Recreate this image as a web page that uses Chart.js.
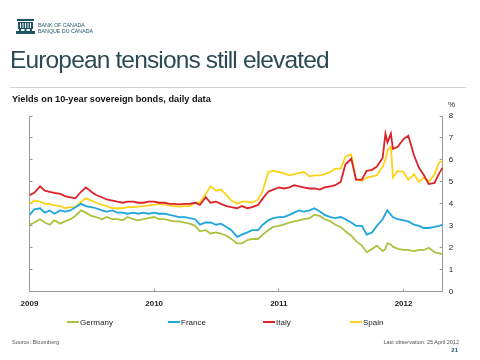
<!DOCTYPE html>
<html>
<head>
<meta charset="utf-8">
<script src="https://cdn.jsdelivr.net/npm/chart.js@4.4.1/dist/chart.umd.min.js"></script>
<style>
  body { margin: 0; background: #fff; font-family: "Liberation Sans", Arial, sans-serif; }
  #wrap { position: relative; width: 480px; height: 360px; overflow: hidden; }
  #c { position: absolute; left: 0; top: 0; }
  .txt { position: absolute; white-space: nowrap; }
  #legend .item { position: absolute; top: 318px; font-size: 8px; color: #222; line-height: 10px; }
  #legend .swatch { display: inline-block; width: 12px; height: 2px; vertical-align: middle; margin-right: 1px; position: relative; top: -1px; }
</style>
</head>
<body>
<div id="wrap">
  <canvas id="c" width="480" height="360"></canvas>

  <!-- logo -->
  <svg class="txt" style="left:16px; top:19px" width="19" height="15" viewBox="0 0 19 15">
    <rect x="1" y="0" width="17" height="2" fill="#1d5566"/>
    <rect x="2" y="3" width="15" height="7" fill="#1d5566"/>
    <rect x="4" y="4" width="1" height="5" fill="#fff"/>
    <rect x="6.5" y="4" width="1" height="5" fill="#fff"/>
    <rect x="9" y="4" width="1" height="5" fill="#fff"/>
    <rect x="11.5" y="4" width="1" height="5" fill="#fff"/>
    <rect x="14" y="4" width="1" height="5" fill="#fff"/>
    <rect x="0" y="12" width="19" height="3" fill="#1d5566"/>
    <rect x="3" y="10" width="2" height="2" fill="#1d5566"/>
    <rect x="8.5" y="10" width="2" height="2" fill="#1d5566"/>
    <rect x="14" y="10" width="2" height="2" fill="#1d5566"/>
  </svg>
  <div class="txt" style="left:38px; top:22px; font-size:5.3px; line-height:6.3px; color:#1d5566">BANK OF CANADA<br>BANQUE DU CANADA</div>

  <div class="txt" style="left:10px; top:46px; font-size:24.5px; letter-spacing:-0.85px; color:#2b4a55">European tensions still elevated</div>
  <div class="txt" style="left:10px; top:87px; width:456px; height:1px; background:#d0d4d6"></div>

  <div class="txt" style="left:12px; top:94px; font-size:9.2px; font-weight:bold; color:#111">Yields on 10-year sovereign bonds, daily data</div>
  <div class="txt" style="left:448px; top:100px; font-size:8px; color:#222">%</div>

  <div id="legend"></div>

  <div class="txt" style="left:12px; top:339px; font-size:5.5px; color:#555">Source: Bloomberg</div>
  <div class="txt" style="right:21px; top:339px; font-size:5.5px; color:#555">Last observation: 25 April 2012</div>
  <div class="txt" style="right:22px; top:347px; font-size:6px; font-weight:bold; color:#1d5566">21</div>
</div>

<script>
// dates de lecture (1er et 15 du mois, plus quelques pics)
var dates = [
  "2009-01-01","2009-01-15","2009-02-01","2009-02-15","2009-03-01","2009-03-15","2009-04-01","2009-04-15",
  "2009-05-01","2009-05-15","2009-06-01","2009-06-15","2009-07-01","2009-07-15","2009-08-01","2009-08-15",
  "2009-09-01","2009-09-15","2009-10-01","2009-10-15","2009-11-01","2009-11-15","2009-12-01","2009-12-15",
  "2010-01-01","2010-01-15","2010-02-01","2010-02-15","2010-03-01","2010-03-15","2010-04-01","2010-04-15",
  "2010-05-01","2010-05-15","2010-06-01","2010-06-15","2010-07-01","2010-07-15","2010-08-01","2010-08-15",
  "2010-09-01","2010-09-15","2010-10-01","2010-10-15","2010-11-01","2010-11-15","2010-12-01","2010-12-15",
  "2011-01-01","2011-01-15","2011-02-01","2011-02-15","2011-03-01","2011-03-15","2011-04-01","2011-04-15",
  "2011-05-01","2011-05-15","2011-06-01","2011-06-15","2011-07-01","2011-07-15","2011-08-01","2011-08-15",
  "2011-09-01","2011-09-15","2011-10-01","2011-10-15","2011-11-01","2011-11-09","2011-11-15","2011-11-25",
  "2011-12-01","2011-12-15","2012-01-01","2012-01-15","2012-02-01","2012-02-15","2012-03-01","2012-03-15",
  "2012-04-01","2012-04-15","2012-04-25"
];

var germany = [
  3.05, 3.15, 3.3, 3.15, 3.05, 3.25, 3.1, 3.2, 3.3, 3.45,
  3.7, 3.6, 3.45, 3.4, 3.3, 3.4, 3.3, 3.3, 3.25, 3.4,
  3.3, 3.25, 3.3, 3.35, 3.4, 3.3, 3.3, 3.25, 3.2, 3.2,
  3.15, 3.1, 3.0, 2.75, 2.8, 2.65, 2.7, 2.65, 2.55, 2.4,
  2.2, 2.2, 2.35, 2.4, 2.4, 2.6, 2.8, 2.95, 3.0, 3.05,
  3.15, 3.2, 3.25, 3.3, 3.35, 3.5, 3.45, 3.3, 3.2, 3.05,
  2.95, 2.75, 2.55, 2.3, 2.1, 1.8, 1.95, 2.1,
  1.85, 1.95, 2.2, 2.15, 2.05,
  1.95, 1.9, 1.9, 1.85, 1.9, 1.9, 2.0, 1.8, 1.75,
  1.7
];

var france = [
  3.5, 3.75, 3.8, 3.6, 3.7, 3.55, 3.7, 3.65, 3.7, 3.85,
  4.0, 3.9, 3.85, 3.8, 3.7, 3.65, 3.7, 3.6, 3.6, 3.55,
  3.6, 3.55, 3.6, 3.55, 3.6, 3.55, 3.55, 3.5, 3.45, 3.4,
  3.4, 3.35, 3.3, 3.05, 3.15, 3.15, 3.05, 3.1, 2.95, 2.8,
  2.5, 2.6, 2.7, 2.8, 2.8, 3.05, 3.25, 3.35, 3.4, 3.4,
  3.5, 3.6, 3.7, 3.65, 3.7, 3.8, 3.65, 3.5, 3.4, 3.35,
  3.4, 3.3, 3.15, 3.0, 3.0, 2.6, 2.7, 3.0,
  3.3, 3.55, 3.7, 3.5, 3.4,
  3.3, 3.25, 3.2, 3.05, 3.0, 2.9, 2.9, 2.95, 3.0,
  3.05
];

var italy = [
  4.4, 4.5, 4.8, 4.6, 4.55, 4.5, 4.45, 4.35, 4.3, 4.25,
  4.55, 4.75, 4.55, 4.4, 4.3, 4.2, 4.15, 4.1, 4.05, 4.1,
  4.1, 4.05, 4.05, 4.1, 4.1, 4.05, 4.05, 4.0, 4.0, 3.98,
  4.0, 4.0, 4.05, 3.95, 4.3, 4.05, 4.1, 4.0, 3.9, 3.85,
  3.8, 3.9, 3.8, 3.85, 3.95, 4.25, 4.55, 4.65, 4.75, 4.7,
  4.75, 4.85, 4.8, 4.75, 4.7, 4.7, 4.65, 4.75, 4.8, 4.85,
  5.0, 5.8, 6.05, 5.1, 5.1, 5.5, 5.55, 5.7,
  6.1, 7.2, 6.8, 7.2, 6.5,
  6.6, 6.95, 7.1, 6.2, 5.65, 5.3, 4.9, 4.95, 5.4,
  5.65
];

var spain = [
  4.0, 4.15, 4.1, 4.0, 4.0, 3.93, 3.9, 3.8, 3.85, 3.85,
  4.1, 4.25, 4.15, 4.05, 3.95, 3.9, 3.8, 3.8, 3.8, 3.85,
  3.85, 3.87, 3.9, 3.93, 3.95, 4.0, 3.95, 3.93, 3.9, 3.87,
  3.9, 3.9, 4.05, 4.05, 4.45, 4.8, 4.6, 4.65, 4.4, 4.15,
  4.0, 4.1, 4.1, 4.05, 4.2, 4.6, 5.45, 5.5, 5.45, 5.4,
  5.3, 5.35, 5.4, 5.45, 5.25, 5.3, 5.3, 5.35, 5.45, 5.6,
  5.6, 6.15, 6.25, 5.1, 5.05, 5.2, 5.25, 5.3,
  5.7, 6.0, 6.45, 6.6, 5.2,
  5.5, 5.45, 5.1, 5.35, 5.0, 5.2, 5.0, 5.35, 5.9,
  5.95
];

var yearTicks = [2009, 2010, 2011, 2012];
var yTicks = [0, 1, 2, 3, 4, 5, 6, 7, 8];
var seriesNames = ["Germany", "France", "Italy", "Spain"];
var seriesColors = ["#a9c23f", "#1ea5dc", "#dc2229", "#ffd21a"];
var legendX = [67, 168, 263, 350];

// "2011-11-09" -> 2011.857...
function toYear(s) {
  var p = s.split("-").map(Number);
  var start = Date.UTC(p[0], 0, 1);
  var next = Date.UTC(p[0] + 1, 0, 1);
  return p[0] + (Date.UTC(p[0], p[1] - 1, p[2]) - start) / (next - start);
}

var xs = dates.map(toYear);
function pts(vals) {
  return vals.map(function (v, i) { return { x: xs[i], y: v }; });
}

var allSeries = [germany, france, italy, spain];
var datasets = allSeries.map(function (vals, i) {
  return {
    label: seriesNames[i],
    data: pts(vals),
    borderColor: seriesColors[i],
    backgroundColor: seriesColors[i],
    borderWidth: 1.8,
    pointRadius: 0,
    tension: 0,
    fill: false
  };
});

var axisColor = "#9a9a9a";
var tickFont = { family: "'Liberation Sans', Arial, sans-serif", size: 8, weight: "bold" };

var chart = new Chart(document.getElementById("c"), {
  type: "line",
  data: { datasets: datasets },
  options: {
    responsive: false,
    animation: false,
    events: [],
    layout: { padding: { left: 29.5, top: 116, right: 0, bottom: 48.3 } },
    plugins: { legend: { display: false }, tooltip: { enabled: false } },
    scales: {
      x: {
        type: "linear",
        min: yearTicks[0],
        max: xs[xs.length - 1],
        afterBuildTicks: function (s) { s.ticks = yearTicks.map(function (v) { return { value: v }; }); },
        afterFit: function (s) { s.height = 20; },
        ticks: { autoSkip: false, maxRotation: 0, padding: 10, color: "#222", font: tickFont,
                 callback: function (v) { return String(v); } },
        grid: { drawOnChartArea: false, tickLength: -3, color: axisColor },
        border: { color: axisColor, width: 1 }
      },
      y: {
        position: "right",
        min: yTicks[0],
        max: yTicks[yTicks.length - 1],
        afterBuildTicks: function (s) { s.ticks = yTicks.map(function (v) { return { value: v }; }); },
        afterFit: function (s) { s.width = 37.3; },
        ticks: { padding: 9, color: "#222", font: { family: tickFont.family, size: 8 } },
        grid: { drawOnChartArea: false, tickLength: -3, color: axisColor },
        border: { color: axisColor, width: 1 }
      },
      yl: {
        position: "left",
        min: yTicks[0],
        max: yTicks[yTicks.length - 1],
        afterBuildTicks: function (s) { s.ticks = yTicks.map(function (v) { return { value: v }; }); },
        afterFit: function (s) { s.width = 0; },
        ticks: { display: false },
        grid: { drawOnChartArea: false, tickLength: -3, color: axisColor },
        border: { color: axisColor, width: 1 }
      }
    }
  }
});

// legende HTML a partir des datasets
var legend = document.getElementById("legend");
chart.data.datasets.forEach(function (ds, i) {
  var item = document.createElement("div");
  item.className = "item";
  item.style.left = legendX[i] + "px";
  var sw = document.createElement("span");
  sw.className = "swatch";
  sw.style.background = ds.borderColor;
  item.appendChild(sw);
  item.appendChild(document.createTextNode(ds.label));
  legend.appendChild(item);
});
</script>
</body>
</html>
